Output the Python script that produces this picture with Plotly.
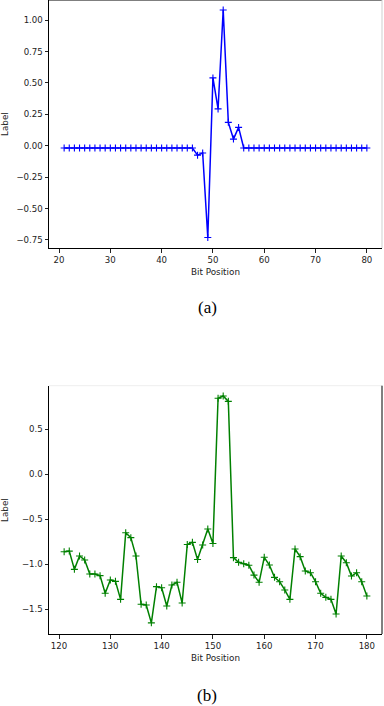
import plotly.graph_objects as go

# (a) bit positions 21..80 and their labels
bits_a = list(range(21, 81))
label_a = ([-0.018] * 26
           + [-0.075, -0.058, -0.73, 0.54, 0.293, 1.08, 0.186, 0.053, 0.146]
           + [-0.018] * 25)

# (b) bit positions 121..180 and their labels
bits_b = list(range(121, 181))
label_b = [
    -0.86, -0.853, -1.056, -0.908, -0.952, -1.108, -1.108, -1.126, -1.322, -1.174,
    -1.189, -1.389, -0.649, -0.704, -0.908, -1.444, -1.452, -1.65, -1.248, -1.26,
    -1.463, -1.23, -1.2, -1.43, -0.78, -0.756, -0.946, -0.785, -0.608, -0.768,
    0.844, 0.87, 0.81, -0.926, -0.978, -0.993, -1.01, -1.12, -1.2, -0.922,
    -1.008, -1.145, -1.193, -1.285, -1.389, -0.83, -0.915, -1.074, -1.093, -1.193,
    -1.322, -1.367, -1.389, -1.552, -0.908, -0.982, -1.13, -1.093, -1.193, -1.352,
]

ticks_xa = [20, 30, 40, 50, 60, 70, 80]
ticks_ya = [-0.75, -0.5, -0.25, 0.0, 0.25, 0.5, 0.75, 1.0]
ticks_xb = [120, 130, 140, 150, 160, 170, 180]
ticks_yb = [-1.5, -1.0, -0.5, 0.0, 0.5]

W, H = 384, 706
XL, XR = 49 / W, 382 / W
DOM_A = [1 - 248 / H, 1.0]
DOM_B = [1 - 634 / H, 1 - 385.7 / H]

TICK_FONT = dict(family="DejaVu Sans", size=8.6, color="#222")

fig = go.Figure()

fig.add_trace(go.Scatter(
    x=bits_a, y=label_a, mode="lines+markers", xaxis="x", yaxis="y",
    line=dict(color="#0000ff", width=1.5),
    marker=dict(symbol="cross-thin", size=5, line=dict(color="#0000ff", width=1.1)),
    showlegend=False,
))
fig.add_trace(go.Scatter(
    x=bits_b, y=label_b, mode="lines+markers", xaxis="x2", yaxis="y2",
    line=dict(color="#008000", width=1.5),
    marker=dict(symbol="cross-thin", size=5, line=dict(color="#008000", width=1.1)),
    showlegend=False,
))


def axis(dom, rng, ticks, fmt=None, anchor=None):
    d = dict(domain=dom, range=rng, tickvals=ticks, showgrid=False, zeroline=False,
             showline=True, linecolor="black", linewidth=1, mirror=False,
             ticks="outside", ticklen=3.5, tickwidth=0.8, tickcolor="#222",
             tickfont=TICK_FONT, anchor=anchor)
    if fmt:
        d["tickformat"] = fmt
    return d


fig.update_layout(
    width=W, height=H,
    margin=dict(l=0, r=0, t=0, b=0),
    paper_bgcolor="white", plot_bgcolor="white",
    xaxis=axis([XL, XR], [18.05, 82.95], ticks_xa, anchor="y"),
    yaxis=axis(DOM_A, [-0.814, 1.16], ticks_ya, ".2f", anchor="x"),
    xaxis2=axis([XL, XR], [118.05, 182.95], ticks_xb, anchor="y2"),
    yaxis2=axis(DOM_B, [-1.774, 0.984], ticks_yb, ".1f", anchor="x2"),
)

# top/right frame edges
for xr, yr, top_c, right_c in [("x", "y", "black", "#cfcfcf"), ("x2", "y2", "#eeeeee", "black")]:
    fig.add_shape(type="line", xref=f"{xr} domain", yref=f"{yr} domain",
                  x0=0, x1=1, y0=1, y1=1, line=dict(color=top_c, width=1))
    fig.add_shape(type="line", xref=f"{xr} domain", yref=f"{yr} domain",
                  x0=1, x1=1, y0=0, y1=1, line=dict(color=right_c, width=1))

LABEL_FONT = dict(family="DejaVu Sans", size=8.8, color="#222")
cx = (XL + XR) / 2
for y_title, y_label, y_cap, cap in [(271.7, 124, 308, "(a)"), (658, 510, 695, "(b)")]:
    fig.add_annotation(text="Bit Position", xref="paper", yref="paper", x=cx, y=1 - y_title / H,
                       showarrow=False, font=LABEL_FONT, xanchor="center", yanchor="middle")
    fig.add_annotation(text="Label", xref="paper", yref="paper", x=5 / W, y=1 - y_label / H,
                       showarrow=False, font=LABEL_FONT, textangle=-90,
                       xanchor="center", yanchor="middle")
    fig.add_annotation(text=cap, xref="paper", yref="paper", x=207 / W, y=1 - y_cap / H,
                       showarrow=False, xanchor="center", yanchor="middle",
                       font=dict(family="Liberation Serif", size=17, color="black"))

# page margin off so the 384x706 figure fills the window exactly
fig.write_html("out.html", config={"displayModeBar": False},
               post_script="document.body.style.margin='0';document.body.style.overflow='hidden';")
